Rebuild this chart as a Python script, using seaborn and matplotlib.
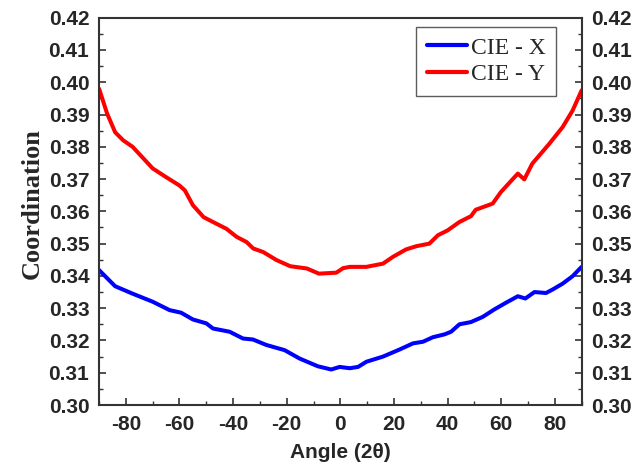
import numpy as np
import pandas as pd
import matplotlib
matplotlib.use("Agg")
import matplotlib.pyplot as plt
import seaborn as sns
from matplotlib.ticker import MultipleLocator

# CIE - X (blue)
x_angle = [-90, -84, -77.5, -70, -63.7, -59.4, -55, -50, -47.5, -41.3, -36.3, -32.6,
           -27.6, -20.8, -15.2, -8.4, -3.4, -0.3, 3.5, 6.6, 9.7, 15.9, 22.1, 27.1,
           30.8, 34.5, 38.9, 41.3, 44.4, 48.7, 53.1, 57.4, 61.8, 66.2, 69, 72.4,
           76.7, 79.2, 82.9, 86.6, 90]
x_coord = [0.3418, 0.3368, 0.3345, 0.3320, 0.3294, 0.3286, 0.3265, 0.3253, 0.3237,
           0.3227, 0.3206, 0.3203, 0.3186, 0.3170, 0.3144, 0.3120, 0.3110, 0.3118,
           0.3114, 0.3118, 0.3134, 0.3150, 0.3172, 0.3191, 0.3196, 0.3210, 0.3219,
           0.3227, 0.3250, 0.3257, 0.3273, 0.3296, 0.3317, 0.3337, 0.3330, 0.3350,
           0.3347, 0.3358, 0.3376, 0.3399, 0.3428]

# CIE - Y (red)
y_angle = [-90, -87, -84, -81, -77.5, -70, -65, -60, -58, -55, -51, -47.5, -42.5,
           -38.7, -35, -32.5, -28.8, -23.8, -18.7, -12.5, -8, -1.5, 1, 3.5, 9.7,
           15.9, 19.6, 24.5, 28.3, 33.2, 36.4, 40, 44.4, 48.7, 50.5, 56.8, 59.9,
           66.2, 68.6, 71.6, 77.9, 82.9, 86.6, 90]
y_coord = [0.3980, 0.3903, 0.3845, 0.3820, 0.3800, 0.3733, 0.3706, 0.3680, 0.3665,
           0.3619, 0.3582, 0.3567, 0.3546, 0.3521, 0.3505, 0.3485, 0.3474, 0.3449,
           0.3430, 0.3423, 0.3407, 0.3410, 0.3424, 0.3428, 0.3428, 0.3438, 0.3459,
           0.3482, 0.3492, 0.3500, 0.3526, 0.3541, 0.3567, 0.3585, 0.3605, 0.3624,
           0.3660, 0.3717, 0.3699, 0.3748, 0.3809, 0.3861, 0.3912, 0.3975]

series = ["CIE - X", "CIE - Y"]
colors = ["#0000ff", "#ff0000"]

df = pd.concat([
    pd.DataFrame({"angle": x_angle, "coord": x_coord, "series": series[0]}),
    pd.DataFrame({"angle": y_angle, "coord": y_coord, "series": series[1]}),
])

sns.set_style("ticks")
plt.rcParams['font.family'] = ['Liberation Sans', 'DejaVu Sans']
plt.rcParams['axes.unicode_minus'] = False

fig, ax = plt.subplots(figsize=(6.35, 4.65), dpi=100)
fig.subplots_adjust(left=0.156, right=0.916, bottom=0.129, top=0.962)

sns.lineplot(data=df, x="angle", y="coord", hue="series", palette=dict(zip(series, colors)),
             sort=False, estimator=None, linewidth=2.9, ax=ax)

ax.set_xlim(-90, 90)
ax.set_ylim(0.30, 0.42)
ax.xaxis.set_major_locator(MultipleLocator(20))
ax.xaxis.set_minor_locator(MultipleLocator(10))
ax.yaxis.set_major_locator(MultipleLocator(0.01))
ax.yaxis.set_minor_locator(MultipleLocator(0.005))
ax.yaxis.set_major_formatter(plt.FormatStrFormatter('%.2f'))

ax.tick_params(which='both', direction='in', top=False, right=True, labelright=True,
               color='#333333')
ax.tick_params(which='major', length=5, width=1.2, labelsize=15, pad=7)
ax.tick_params(which='minor', length=3, width=1.0)
for lbl in ax.get_xticklabels() + ax.get_yticklabels():
    lbl.set_fontweight('bold')
for t in ax.yaxis.get_major_ticks():
    t.label2.set_fontweight('bold')
    t.label2.set_fontsize(15)

for s in ax.spines.values():
    s.set_linewidth(1.5)
    s.set_color('#333333')

ax.set_xlabel('Angle (2θ)', fontsize=15, fontweight='bold', labelpad=7)
ax.set_ylabel('Coordination', fontsize=19, fontweight='bold',
              family=['Liberation Serif', 'DejaVu Serif'])
ax.yaxis.set_label_coords(-0.115, 0.52)

leg = ax.legend(loc='upper right', bbox_to_anchor=(0.947, 0.977), borderaxespad=0,
                frameon=True, fancybox=False, edgecolor='#333333', handlelength=1.7,
                handletextpad=0.15, borderpad=0.45, labelspacing=0.2,
                prop={'family': ['Liberation Serif', 'DejaVu Serif'], 'size': 17})
leg.get_frame().set_linewidth(1.0)
for line in leg.get_lines():
    line.set_linewidth(3)

plt.savefig('out.png', dpi=100)
plt.close()
